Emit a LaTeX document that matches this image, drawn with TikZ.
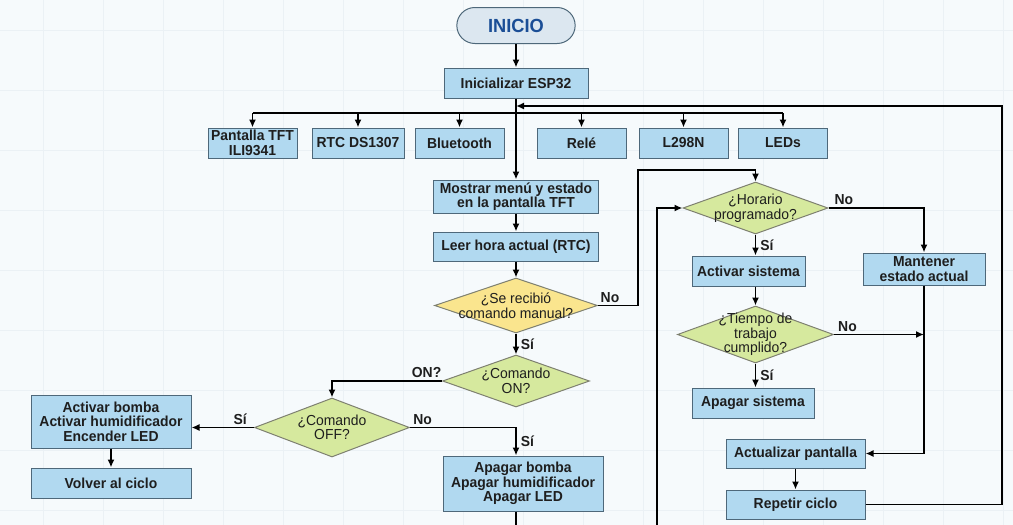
\documentclass[tikz,border=0pt]{standalone}
\usepackage{fontspec}
\setmainfont{Liberation Sans}[FakeStretch=0.96]
\usetikzlibrary{positioning,arrows.meta,shapes.geometric,shapes.misc}

\definecolor{bgc}{HTML}{F6FAFC}
\definecolor{gridc}{HTML}{EBF1F5}
\definecolor{boxfill}{HTML}{B1D9F0}
\definecolor{boxline}{HTML}{4E687A}
\definecolor{yelc}{HTML}{FAE58E}
\definecolor{grnc}{HTML}{D6E99E}
\definecolor{dline}{HTML}{7E8070}
\definecolor{txtc}{HTML}{1E1E1E}
\definecolor{startc}{HTML}{DCE7F0}
\definecolor{startt}{HTML}{1B4E96}

\newcommand{\flowfont}{\bfseries\fontsize{14.5}{14.5}\selectfont}
\newcommand{\askfont}{\fontsize{14.5}{14.5}\selectfont}
\newcommand{\startfont}{\bfseries\fontsize{19}{19}\selectfont}

\begin{document}
\begin{tikzpicture}[x=1pt,y=-1pt,->,>={Latex[length=8pt,width=7pt]},line width=1.8pt,
  start/.style={rounded rectangle,draw=boxline,fill=startc,line width=1pt,text=startt,font=\startfont,minimum width=125,minimum height=36},
  box/.style={rectangle,draw=boxline,fill=boxfill,line width=1pt,text=txtc,font=\flowfont,align=center,inner sep=1pt,minimum height=30},
  decision/.style={diamond,draw=dline,line width=1pt,inner sep=0pt},
  askyel/.style={decision,fill=yelc},
  askgrn/.style={decision,fill=grnc},
  dtext/.style={text=txtc,font=\askfont,align=center,inner sep=0pt},
  lbl/.style={text=txtc,font=\flowfont,inner sep=2pt}]

\useasboundingbox (0,0) rectangle (1013,525);
\fill[bgc] (0,0) rectangle (1013,525);
\foreach \gx in {43,103,...,1013} \draw[-,gridc,line width=0.6pt] (\gx,0) -- (\gx,525);
\foreach \gy in {30,90,...,525} \draw[-,gridc,line width=0.6pt] (0,\gy) -- (1013,\gy);

% main column
\node[start] (inicio) at (516,25.5) {INICIO};
\node[box,minimum width=144] (init) at (516,83) {Inicializar ESP32};
\node[box,minimum width=89] (tft) at (252.5,143) {Pantalla TFT\\ILI9341};
\node[box,minimum width=92] (rtc) at (358,143) {RTC DS1307};
\node[box,minimum width=89] (bt) at (459.5,143) {Bluetooth};
\node[box,minimum width=89] (rele) at (581.5,143) {Relé};
\node[box,minimum width=89] (l298) at (683.5,143) {L298N};
\node[box,minimum width=89] (leds) at (783,143) {LEDs};
\node[box,minimum width=165,minimum height=33] (menu) at (516,196.5) {Mostrar menú y estado\\en la pantalla TFT};
\node[box,minimum width=165,minimum height=29] (leer) at (516,246.5) {Leer hora actual (RTC)};
\node[askyel,minimum width=163,minimum height=55,label={[dtext]center:{¿Se recibió\\comando manual?}}] (manual) at (516,305.5) {};
\node[askgrn,minimum width=147,minimum height=52,label={[dtext]center:{¿Comando\\ON?}}] (on) at (516,381) {};
\node[askgrn,minimum width=155,minimum height=59,label={[dtext]center:{¿Comando\\OFF?}}] (off) at (332,427.5) {};
\node[box,minimum width=160,minimum height=53] (bomb) at (111,421.5) {Activar bomba\\Activar humidificador\\Encender LED};
\node[box,minimum width=160,minimum height=30] (back) at (111,483) {Volver al ciclo};
\node[box,minimum width=160,minimum height=55] (apoff) at (523,483.5) {Apagar bomba\\Apagar humidificador\\Apagar LED};

% right column
\node[askgrn,minimum width=145,minimum height=52,label={[dtext]center:{¿Horario\\programado?}}] (horario) at (755.5,208) {};
\node[box,minimum width=113] (act) at (748.5,271) {Activar sistema};
\node[box,minimum width=122,minimum height=32] (keep) at (924,269) {Mantener\\estado actual};
\node[askgrn,minimum width=156,minimum height=57,label={[dtext]center:{¿Tiempo de\\trabajo\\cumplido?}}] (tiempo) at (755.5,334.5) {};
\node[box,minimum width=122] (sysoff) at (753,403) {Apagar sistema};
\node[box,minimum width=139,minimum height=29] (update) at (795.5,453.5) {Actualizar pantalla};
\node[box,minimum width=139,minimum height=29] (repeat) at (795.5,504.5) {Repetir ciclo};

\coordinate (bus) at (516,113);
\coordinate (loopR) at (1002,106);
\coordinate (mturn) at (638,170);
\coordinate (loopin) at (657,525);
\coordinate (outB) at (516,525);

\path (inicio) edge (init)
      (init)   edge (menu)
      (menu)   edge (leer)
      (leer)   edge (manual)
      (bomb)   edge (back)
      (update) edge (repeat);

\draw[-] (bus -| tft) -- (bus -| leds);
\foreach \m in {tft,rtc,bt,rele,l298,leds}
  \draw (bus -| \m.north) -- (\m.north);

\draw (manual.south) -- node[lbl,right,xshift=2pt] {Sí} (on.north);
\draw (manual.east) -| node[lbl,above,pos=0.15] {No} (mturn) -| (horario.north);
\draw (on.west) -| node[lbl,above,pos=0.07] {ON?} (off.north);
\draw (off.west) -- node[lbl,above,pos=0.22] {Sí} (off.west -| bomb.east);
\draw (off.east) -| node[lbl,above,pos=0.06] {No} node[lbl,right,pos=0.75,xshift=2pt] {Sí} (apoff.north -| on.south);
\draw[-] (apoff.south -| outB) -- (outB);

\draw (loopin) |- (horario.west);
\draw (horario.east) -| node[lbl,above,pos=0.08] {No} (keep.north);
\draw (horario.south) -- node[lbl,right,xshift=2pt] {Sí} (horario.south |- act.north);
\draw (act.south -| tiempo.north) -- (tiempo.north);
\draw (tiempo.east) -- node[lbl,above,pos=0.15] {No} (tiempo.east -| keep.south);
\draw (tiempo.south) -- node[lbl,right,xshift=2pt] {Sí} (tiempo.south |- sysoff.north);
\draw (keep.south) |- (update.east);
\draw (repeat.east) -| (loopR) -- (loopR -| init.south);

\end{tikzpicture}
\end{document}
